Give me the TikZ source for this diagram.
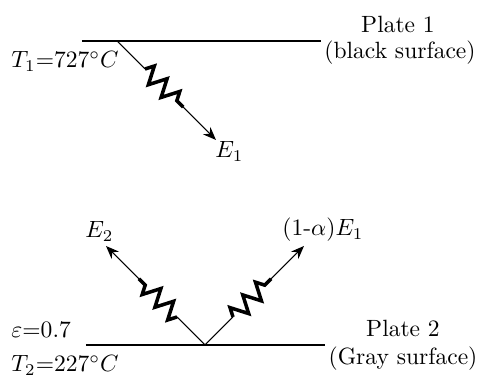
\documentclass[tikz,border=0pt]{standalone}
\usepackage{amsmath,amssymb}
\usepackage{xcolor}
\usepackage{tikz}
\usetikzlibrary{arrows.meta,decorations.pathmorphing,calc}
\tikzset{
plate/.style={
line width=0.6pt
},
ray/.style={
-{Stealth[length=5.6pt,width=4.4pt]},
line width=0.45pt
},
wave/.style={
decorate,
decoration={zigzag,segment length=7.65pt,amplitude=3.7pt},
line width=1.5pt,
line join=miter
},
txt/.style={
inner sep=0pt,
anchor=base west
},
tag/.style={
inner sep=0pt,
anchor=base
}
}

\begin{document}
\begin{tikzpicture}[x=0.425pt,y=-0.425pt]
\useasboundingbox (0,0) rectangle (479,376);

% plate 1
\coordinate (p1a) at (82,41);
\coordinate (p1b) at (321,41);
\draw[plate](p1a)--(p1b);
\node[tag](n1) at (398,33){Plate 1};
\node[tag](k1) at (400,59){(black surface)};
\node[txt](t1) at (11,68){$T_1{=}727^\circ C$};

% emitted by plate 1
\coordinate (s1) at (117,41);
\coordinate (z1a) at (145,69);
\coordinate (z1b) at (183.2,107.2);
\coordinate (e1) at (216,140);
\node[txt](l1) at (215,158){$E_1$};
\draw[line width=0.45pt](s1)--(z1a);
\draw[wave](z1a)--(z1b);
\draw[ray](z1b)--(e1);

% plate 2
\coordinate (p2a) at (86,345);
\coordinate (p2b) at (325,345);
\draw[plate](p2a)--(p2b);
\node[tag](n2) at (403,337){Plate 2};
\node[tag](k2) at (403,365){(Gray surface)};
\node[txt](eps) at (11,338){$\varepsilon{=}0.7$};
\node[txt](t2) at (11,372){$T_2{=}227^\circ C$};

% emitted and reflected by plate 2
\coordinate (v) at (205,345);
\coordinate (z2a) at (177,317);
\coordinate (z2b) at (138.8,278.8);
\coordinate (e2) at (106,246);
\coordinate (z3a) at (233,317);
\coordinate (z3b) at (271.2,278.8);
\coordinate (e3) at (304,246);
\node[txt](l2) at (85,238){$E_2$};
\node[txt](l3) at (282,236){$(1\text{-}\alpha)E_1$};

\draw[line width=0.45pt](v)--(z2a);
\draw[wave](z2a)--(z2b);
\draw[ray](z2b)--(e2);

\draw[line width=0.45pt](v)--(z3a);
\draw[wave](z3a)--(z3b);
\draw[ray](z3b)--(e3);
\end{tikzpicture}
\end{document}
